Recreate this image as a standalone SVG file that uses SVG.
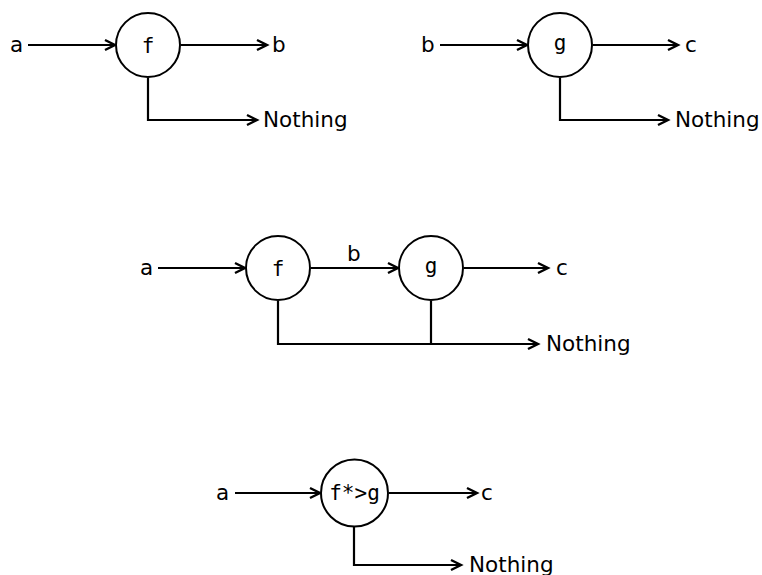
<svg xmlns="http://www.w3.org/2000/svg" width="762" height="575" viewBox="0 0 762 575">
<style>
.t{font-family:"DejaVu Sans",sans-serif;font-size:21.5px;fill:#000}
.m{font-family:"DejaVu Sans Mono",monospace;font-size:21px;fill:#000}
.c{fill:#fff;stroke:#000;stroke-width:2}
.l{fill:none;stroke:#000;stroke-width:2.2;marker-end:url(#ah)}
.p{fill:none;stroke:#000;stroke-width:2.2}
</style>
<defs>
<marker id="ah" markerUnits="userSpaceOnUse" markerWidth="14" markerHeight="14" refX="11" refY="6" orient="auto" overflow="visible">
<path d="M1,1 L11,6 L1,11" fill="none" stroke="#000" stroke-width="2.4"/>
</marker>
</defs>
<g id="connectors">
<path class="l" d="M28,45 H115"/>
<path class="l" d="M181,45 H267"/>
<path class="l" d="M148,78 V120 H257"/>
<path class="l" d="M440,45 H527"/>
<path class="l" d="M593,45 H678"/>
<path class="l" d="M560,78 V120 H668"/>
<path class="l" d="M158,268 H245"/>
<path class="l" d="M311,268 H398"/>
<path class="l" d="M464,268 H548"/>
<path class="l" d="M278,301 V344 H538"/>
<path class="p" d="M431,301 V344"/>
<path class="l" d="M235,493 H320"/>
<path class="l" d="M389,493 H477"/>
<path class="l" d="M354,527 V565 H461"/>
</g>
<g id="f1"><circle class="c" cx="148" cy="45" r="32"/><text class="m" x="148" y="53" text-anchor="middle">f</text></g>
<g id="g1"><circle class="c" cx="560" cy="45" r="32"/><text class="m" x="560" y="50" text-anchor="middle">g</text></g>
<g id="f2"><circle class="c" cx="278" cy="268" r="32"/><text class="m" x="278" y="276" text-anchor="middle">f</text></g>
<g id="g2"><circle class="c" cx="431" cy="268" r="32"/><text class="m" x="431" y="273" text-anchor="middle">g</text></g>
<g id="fg"><circle class="c" cx="354.5" cy="493" r="33.5"/><text class="m" x="354.5" y="500" text-anchor="middle">f*&gt;g</text></g>
<g id="labels">
<text class="t" x="10" y="52">a</text>
<text class="t" x="272" y="52">b</text>
<text class="t" x="263" y="127">Nothing</text>
<text class="t" x="421" y="52">b</text>
<text class="t" x="685" y="52">c</text>
<text class="t" x="675" y="127">Nothing</text>
<text class="t" x="140" y="275">a</text>
<text class="t" x="347" y="261">b</text>
<text class="t" x="556" y="275">c</text>
<text class="t" x="546" y="351">Nothing</text>
<text class="t" x="216" y="500">a</text>
<text class="t" x="481" y="500">c</text>
<text class="t" x="469" y="572">Nothing</text>
</g>
</svg>
